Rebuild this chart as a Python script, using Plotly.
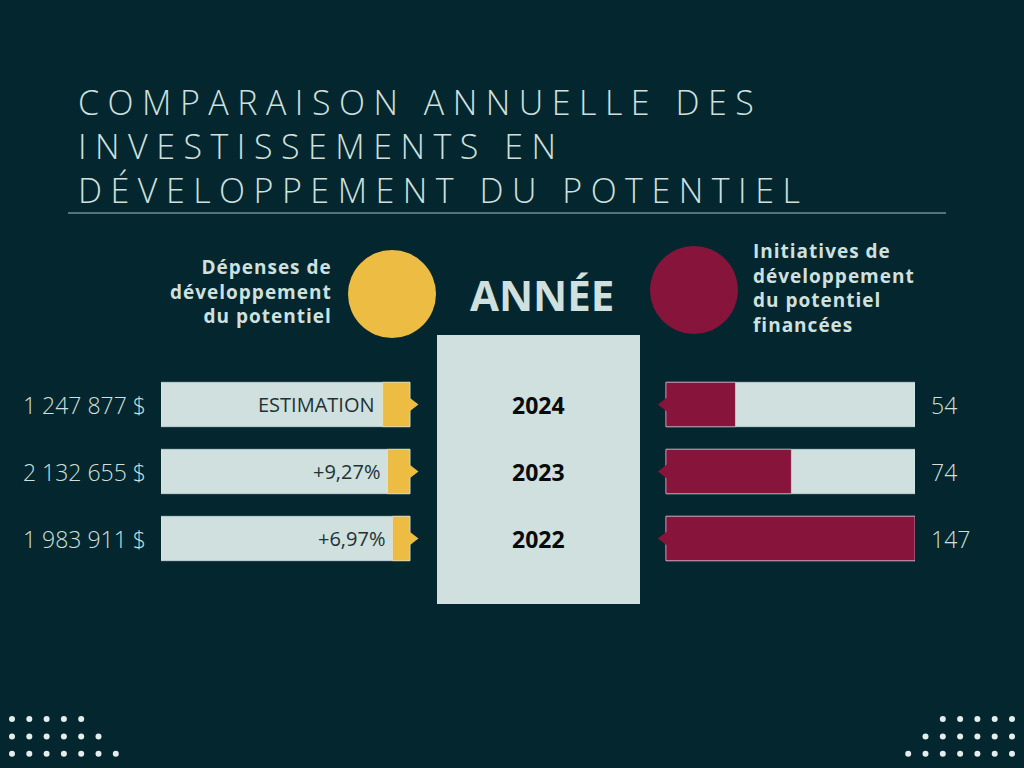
import plotly.graph_objects as go

# data
years = ["2024", "2023", "2022"]
depenses_labels = ["1 247 877 $", "2 132 655 $", "1 983 911 $"]
bar_notes = ["ESTIMATION", "+9,27%", "+6,97%"]
gray_share = [89, 91, 93]          # light part of the left bars, out of 100
initiatives = [54, 74, 147]        # printed values
initiatives_bar = [41, 74, 147]    # bar lengths as drawn

BG = "#03262F"
LIGHT = "#CFE0DE"
YELLOW = "#ECBD42"
MAROON = "#87143B"
W, H = 1024, 768


def px(x):
    return x / W


def py(y):
    return 1 - y / H


fig = go.Figure()

# left bars: light part + yellow cap
fig.add_trace(go.Bar(y=years, x=[100] * 3, orientation="h", marker_color=LIGHT,
                     width=0.664, xaxis="x", yaxis="y", hoverinfo="skip"))
fig.add_trace(go.Bar(y=years, x=[100 - g for g in gray_share], base=gray_share,
                     orientation="h", marker_color=YELLOW, width=0.664,
                     xaxis="x", yaxis="y", hoverinfo="skip"))
fig.add_trace(go.Scatter(y=years, x=[100.9] * 3, mode="markers", cliponaxis=False,
                         marker=dict(symbol="triangle-right", size=12.5, color=YELLOW),
                         xaxis="x", yaxis="y", hoverinfo="skip"))

# right bars: light background + maroon fill
top = max(initiatives)
fig.add_trace(go.Bar(y=years, x=[top] * 3, orientation="h", marker_color=LIGHT,
                     width=0.664, xaxis="x2", yaxis="y", hoverinfo="skip"))
fig.add_trace(go.Bar(y=years, x=initiatives_bar, orientation="h", marker_color=MAROON,
                     width=0.664, xaxis="x2", yaxis="y", hoverinfo="skip"))
fig.add_trace(go.Scatter(y=years, x=[-1.1] * 3, mode="markers", cliponaxis=False,
                         marker=dict(symbol="triangle-left", size=12.5, color=MAROON),
                         xaxis="x2", yaxis="y", hoverinfo="skip"))

# decorative dots in the bottom corners
dx, dy = [], []
for row, n in enumerate([5, 6, 7]):
    for k in range(n):
        dx += [12 + 17.3 * k, 1012 - 17.3 * k]
        dy += [719 + 17.4 * row] * 2
fig.add_trace(go.Scatter(x=dx, y=dy, mode="markers", xaxis="x3", yaxis="y3",
                         marker=dict(size=6, color="#E4EDEC"), hoverinfo="skip"))

shapes = [
    dict(type="line", xref="paper", yref="paper", x0=px(68), x1=px(946), y0=py(213), y1=py(213),
         line=dict(color="#A9BFBF", width=1)),
    dict(type="rect", xref="paper", yref="paper", x0=px(437), x1=px(640), y0=py(604), y1=py(335),
         fillcolor=LIGHT, line_width=0, layer="below"),
    dict(type="circle", xref="paper", yref="paper", x0=px(348), x1=px(436), y0=py(338), y1=py(250),
         fillcolor=YELLOW, line_width=0),
    dict(type="circle", xref="paper", yref="paper", x0=px(650), x1=px(738), y0=py(334), y1=py(246),
         fillcolor=MAROON, line_width=0),
]

ann = [
    dict(text="COMPARAISON ANNUELLE DES<br>INVESTISSEMENTS EN<br>DÉVELOPPEMENT DU POTENTIEL",
         x=px(76), y=py(146), xanchor="left", yanchor="middle", align="left",
         font=dict(family="Open Sans", size=34, color=LIGHT, weight=300)),
    dict(text="ANNÉE", x=px(542), y=py(295), xanchor="center", yanchor="middle",
         font=dict(family="Open Sans", size=42, color=LIGHT, weight=700)),
    dict(text="Dépenses de<br>développement<br>du potentiel", x=px(334), y=py(291),
         xanchor="right", yanchor="middle", align="right",
         font=dict(family="Open Sans", size=19, color=LIGHT, weight=700)),
    dict(text="Initiatives de<br>développement<br>du potentiel<br>financées", x=px(751), y=py(288),
         xanchor="left", yanchor="middle", align="left",
         font=dict(family="Open Sans", size=19, color=LIGHT, weight=700)),
]
for i, (yr, lab, note, g, val) in enumerate(zip(years, depenses_labels, bar_notes,
                                                 gray_share, initiatives)):
    ann.append(dict(text=lab, xref="paper", yref="y", x=px(148), y=i, xanchor="right",
                    font=dict(family="Open Sans", size=23, color=LIGHT, weight=300)))
    ann.append(dict(text=note, xref="x", yref="y", x=g, y=i, xanchor="right", xshift=-6,
                    font=dict(family="Open Sans", size=20, color="#1D3337")))
    ann.append(dict(text="<b>" + yr + "</b>", xref="paper", yref="y", x=px(538), y=i,
                    xanchor="center", font=dict(family="Open Sans", size=23, color="#0A0A0A")))
    ann.append(dict(text=str(val), xref="paper", yref="y", x=px(929), y=i, xanchor="left",
                    font=dict(family="Open Sans", size=23, color=LIGHT, weight=300)))

for a in ann:
    a.setdefault("xref", "paper")
    a.setdefault("yref", "paper")
    a["showarrow"] = False

hidden = dict(visible=False, showgrid=False, zeroline=False, fixedrange=True)
# 1 unit = 2.49 px on the left axis, 249/147 px on the right one; ranges run a bit
# past the bars so the arrow heads stay inside the axis range
fig.update_layout(
    width=W, height=H, margin=dict(l=0, r=0, t=0, b=0),
    paper_bgcolor=BG, plot_bgcolor="rgba(0,0,0,0)", showlegend=False, barmode="overlay",
    xaxis=dict(domain=[px(161), px(161 + 2.49 * 104)], range=[0, 104], anchor="y", **hidden),
    xaxis2=dict(domain=[px(666 - 249 / top * 4), px(915)], range=[-4, top], anchor="y", **hidden),
    yaxis=dict(domain=[py(572), py(371)], range=[2.5, -0.5], type="category",
               categoryorder="array", categoryarray=years, anchor="x", **hidden),
    xaxis3=dict(domain=[0, 1], range=[0, W], anchor="y3", **hidden),
    yaxis3=dict(domain=[0, 1], range=[H, 0], anchor="x3", **hidden),
    shapes=shapes, annotations=ann,
)

# page without margin, wide tracking for the title, a little for the legends
css = ("body{margin:0}.annotation[data-index='0'] text{letter-spacing:8.5px}"
       ".annotation[data-index='2'] text,.annotation[data-index='3'] text{letter-spacing:1px}")
fig.write_html("out.html", config={"displayModeBar": False},
               post_script="var s=document.createElement('style');s.textContent=\"" + css +
                           "\";document.head.appendChild(s);")
